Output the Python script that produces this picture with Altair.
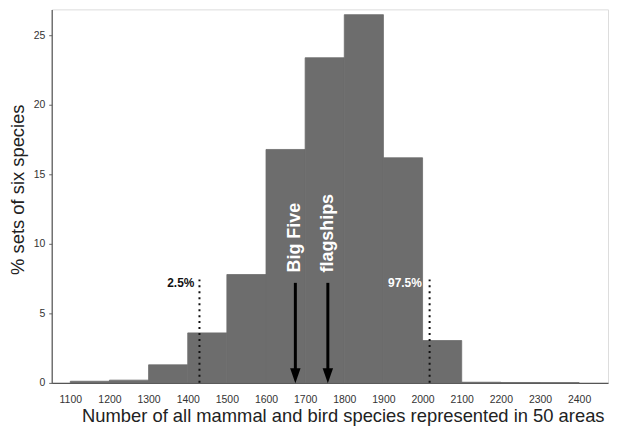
import altair as alt
import pandas as pd

# Histogram bins (lower edge) and % of six-species sets
bin_start = [1100, 1200, 1300, 1400, 1500, 1600, 1700, 1800, 1900, 2000, 2100, 2200, 2300]
bin_end = [1200, 1300, 1400, 1500, 1600, 1700, 1800, 1900, 2000, 2100, 2200, 2300, 2400]
pct = [0.12, 0.2, 1.3, 3.6, 7.8, 16.8, 23.4, 26.5, 16.2, 3.05, 0.05, 0.03, 0.02]

# Arrows (observed sets)
arrow_names = ["Big Five", "flagships"]
arrow_x = [1675, 1758]
arrow_top = [7.2, 7.2]

# Percentile dotted lines
pct_labels = ["2.5%", "97.5%"]
pct_x = [1430, 2018]
pct_top = [7.45, 7.45]
pct_label_x = [1417, 1998]
pct_label_color = ["#111111", "#ffffff"]

x_ticks = [1100, 1200, 1300, 1400, 1500, 1600, 1700, 1800, 1900, 2000, 2100, 2200, 2300, 2400]
y_ticks = [0, 5, 10, 15, 20, 25]

bars = pd.DataFrame({"x": bin_start, "x2": bin_end, "y": pct})
arrows = pd.DataFrame({"name": arrow_names, "x": arrow_x, "top": arrow_top,
                       "shaft_end": [1.0, 1.0], "head": [0.52, 0.52], "text_y": [7.95, 7.95]})
lines = pd.DataFrame({"label": pct_labels, "x": pct_x, "top": pct_top,
                      "lx": pct_label_x, "color": pct_label_color, "ly": [7.2, 7.2]})

xscale = alt.Scale(domain=[1052.5, 2473.8], nice=False, zero=False)
yscale = alt.Scale(domain=[0, 26.88], nice=False)

font = "Liberation Sans"
bar_color = "#6d6d6d"

base_bars = alt.Chart(bars).mark_rect(color=bar_color, stroke=bar_color, strokeWidth=0.8).encode(
    x=alt.X("x:Q", scale=xscale,
            axis=alt.Axis(values=x_ticks, format="d", ticks=False, grid=False, labelPadding=12,
                          labelFontSize=10.5, labelColor="#333333", labelFont=font,
                          domainColor="#555555", domainWidth=1.2, labelFlush=False,
                          title="Number of all mammal and bird species represented in 50 areas",
                          titleFont=font, titleFontSize=18.5, titleFontWeight="normal",
                          titleColor="#222222", titleX=293, titleY=33,
                          titleBaseline="middle", titleAlign="center")),
    x2="x2:Q",
    y=alt.Y("y:Q", scale=yscale,
            axis=alt.Axis(values=y_ticks, format="d", tickSize=3, tickColor="#666666", grid=False,
                          labelPadding=4, labelFontSize=10.5, labelColor="#333333",
                          labelFont=font, domainColor="#555555", domainWidth=1.2,
                          title="% sets of six species", titleFont=font, titleFontSize=18.5,
                          titleFontWeight="normal", titleColor="#222222",
                          titleX=-34, titleY=181, titleBaseline="middle", titleAlign="center",
                          titleAngle=270)),
    y2=alt.datum(0),
)

dotted = alt.Chart(lines).mark_rule(color="#111111", strokeWidth=2, strokeDash=[2, 4]).encode(
    x=alt.X("x:Q", scale=xscale), y=alt.Y("top:Q", scale=yscale), y2=alt.datum(0)
)

dot_text = alt.Chart(lines).mark_text(font=font, fontSize=12, fontWeight="bold",
                                      align="right", baseline="middle").encode(
    x=alt.X("lx:Q", scale=xscale), y=alt.Y("ly:Q", scale=yscale),
    text="label:N", color=alt.Color("color:N", scale=None)
)

shaft = alt.Chart(arrows).mark_rule(color="#000000", strokeWidth=3).encode(
    x=alt.X("x:Q", scale=xscale), y=alt.Y("top:Q", scale=yscale), y2="shaft_end:Q"
)

head = alt.Chart(arrows).mark_point(shape="M -0.7 -1 L 0.7 -1 L 0 1 Z", size=225,
                                    filled=True, color="#000000", opacity=1).encode(
    x=alt.X("x:Q", scale=xscale), y=alt.Y("head:Q", scale=yscale)
)

arrow_text = alt.Chart(arrows).mark_text(font=font, fontSize=18, fontWeight="bold",
                                         color="#ffffff", angle=270, align="left",
                                         baseline="middle").encode(
    x=alt.X("x:Q", scale=xscale), y=alt.Y("text_y:Q", scale=yscale), text="name:N"
)

chart = alt.layer(base_bars, dotted, dot_text, shaft, head, arrow_text).properties(
    width=560, height=376,
    autosize=alt.AutoSizeParams(type="none"),
    padding={"left": 44, "top": 0, "right": 2, "bottom": 44},
).configure_view(stroke=None).configure(background="#ffffff")

chart.save("out.html", embed_options={"renderer": "svg", "actions": False})
